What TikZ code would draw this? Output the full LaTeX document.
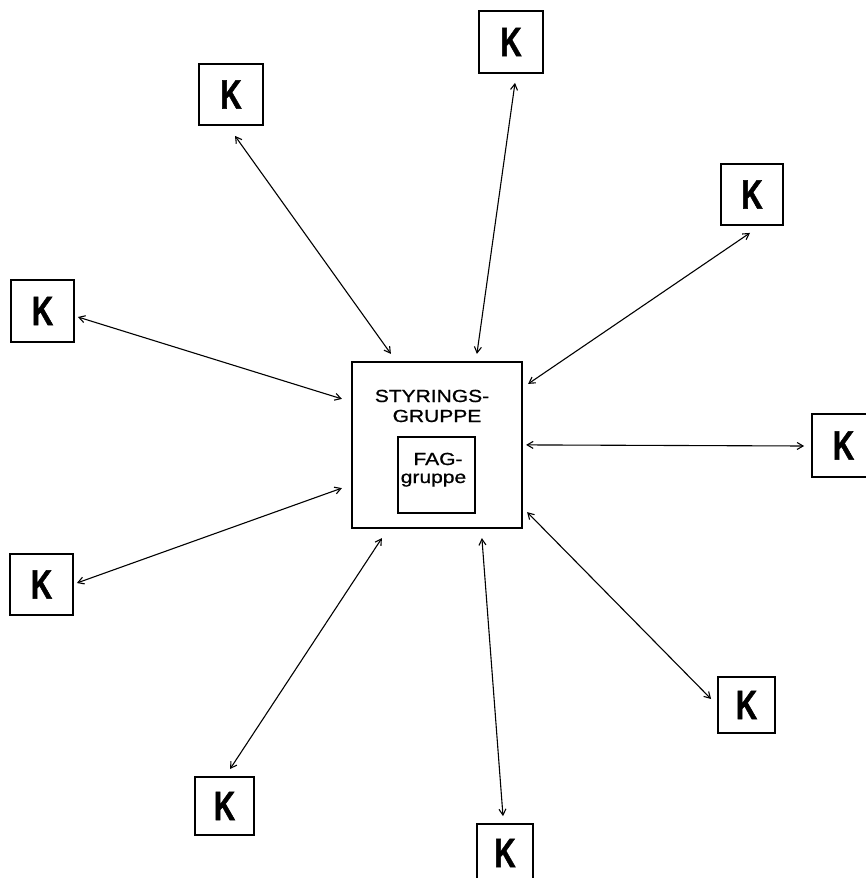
\documentclass[tikz,border=0pt]{standalone}
\usepackage{fontspec}
\setmainfont{Liberation Sans}[BoldFont={Liberation Sans Bold}]
\newfontfamily\kfont{Liberation Sans Bold}[FakeBold=1.5]
\newfontfamily\labfont{Liberation Sans}[FakeBold=0.8]
\usetikzlibrary{arrows.meta}
\newcommand{\kletter}{\scalebox{0.72}[1]{\kfont\fontsize{41}{41}\selectfont K}}
\newcommand{\wide}[1]{\scalebox{1.2}[1]{#1}}
\begin{document}
\begin{tikzpicture}[x=1pt,y=-1pt,
  kbox/.style={draw,line width=1.8pt,inner sep=0pt,minimum width=#1},
  kbox/.default=63pt,
  conn/.style={line width=1.1pt,{Straight Barb[length=6pt,width=7pt]}-{Straight Barb[length=6pt,width=7pt]}},
  lab/.style={inner sep=0pt,anchor=base,font=\labfont\fontsize{17.5}{17.5}\selectfont}]
\useasboundingbox (0,0) rectangle (866,878);
\clip (0,0) rectangle (866,878);
% central box
\node[draw,line width=2.2pt,minimum width=170pt,minimum height=166pt,inner sep=0pt] (S) at (437,445) {};
\node[draw,line width=1.8pt,minimum width=77pt,minimum height=76pt,inner sep=0pt] (F) at (436.5,475) {};
\node[lab] (t1) at (432,402) {\wide{STYRINGS-}};
\node[lab] (t2) at (437,422) {\wide{GRUPPE}};
\node[lab] (t3) at (438,465) {\wide{FAG-}};
\node[lab] (t4) at (433.5,483) {\wide{gruppe}};
% K boxes
\node[kbox=64pt,minimum height=61pt] (K1) at (231,94.5) {\kletter};
\node[kbox=64pt,minimum height=62pt] (K2) at (511,42) {\kletter};
\node[kbox=62pt,minimum height=61pt] (K3) at (752,194.5) {\kletter};
\node[kbox=63pt,minimum height=62pt] (K4) at (42.5,311) {\kletter};
\node[kbox=63pt,minimum height=63pt] (K5) at (843.5,445.5) {\kletter};
\node[kbox=63pt,minimum height=61pt] (K6) at (41.5,584.5) {\kletter};
\node[kbox=57pt,minimum height=56pt] (K7) at (746.5,705) {\kletter};
\node[kbox=59pt,minimum height=58pt] (K8) at (224.5,806) {\kletter};
\node[kbox=56pt,minimum height=58pt] (K9) at (505,853) {\kletter};
% connectors
\draw[conn] ([shift={(4,10)}]K1.south) -- ([shift={(40,-7)}]S.north west);
\draw[conn] ([shift={(4,9)}]K2.south) -- ([shift={(126,-7)}]S.north west);
\draw[conn] ([shift={(-2,7)}]K3.south) -- ([shift={(5,23)}]S.north east);
\draw[conn] ([shift={(3,6)}]K4.east) -- ([shift={(-9,38)}]S.north west);
\draw[conn] ([shift={(-7,0.5)}]K5.west) -- ([shift={(3,84)}]S.north east);
\draw[conn] ([shift={(3,-1.5)}]K6.east) -- ([shift={(-9,-41)}]S.south west);
\draw[conn] ([shift={(-6,-6)}]K7.west) -- ([shift={(4,-17)}]S.south east);
\draw[conn] ([shift={(5.5,-7)}]K8.north) -- ([shift={(31,9)}]S.south west);
\draw[conn] ([shift={(-2,-7)}]K9.north) -- ([shift={(131,9)}]S.south west);
\end{tikzpicture}
\end{document}
